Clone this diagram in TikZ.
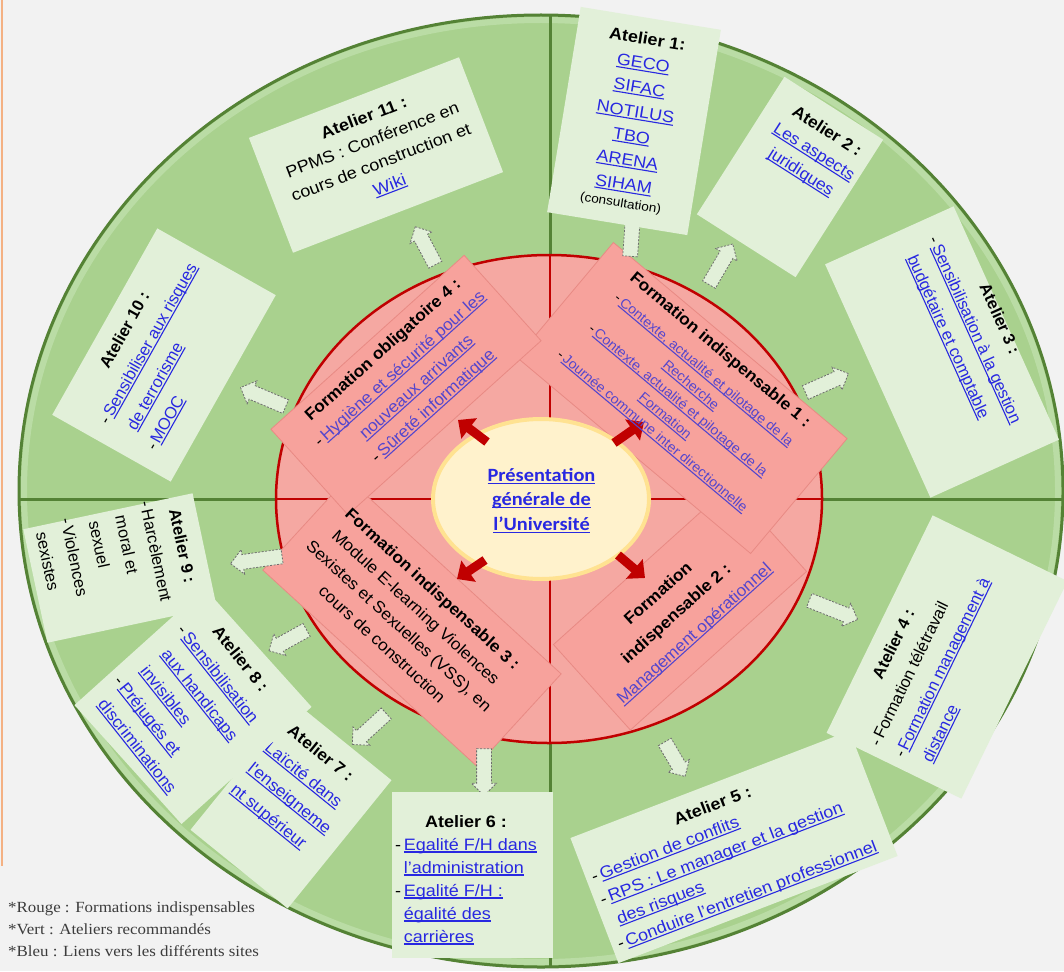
\documentclass[tikz,border=0pt]{standalone}
\usepackage{fontspec}
\setmainfont[FakeStretch=1.09]{Liberation Sans}
\newfontfamily\mfont[FakeStretch=1.05]{Liberation Sans}
\newfontfamily\vfont{Liberation Sans}
\newfontfamily\calfont[FakeStretch=1.09]{Carlito}
\newfontfamily\serfont[FakeStretch=1.09]{Liberation Serif}
\usetikzlibrary{shapes.geometric,shapes.arrows,arrows.meta}
\definecolor{bgc}{RGB}{242,242,242}
\definecolor{gfill}{RGB}{169,209,142}
\definecolor{gedge}{RGB}{84,130,53}
\definecolor{gband}{RGB}{186,220,165}
\definecolor{boxfill}{RGB}{226,240,217}
\definecolor{rfill}{RGB}{245,168,162}
\definecolor{redge}{RGB}{192,0,0}
\definecolor{pfill}{RGB}{247,162,156}
\definecolor{pedge}{RGB}{232,138,132}
\definecolor{cfill}{RGB}{255,242,204}
\definecolor{cedge}{RGB}{255,226,145}
\definecolor{lkblue}{RGB}{40,40,225}
\definecolor{lkpurp}{RGB}{85,70,205}
\definecolor{legc}{RGB}{60,60,60}
\definecolor{orl}{RGB}{244,177,131}
\definecolor{arrd}{RGB}{110,110,110}
\colorlet{lkc}{lkblue}
\newcommand\lk[1]{\leavevmode\setbox0=\hbox{#1}\rlap{\color{lkc}\rule[-2.4pt]{\wd0}{1.1pt}}{\color{lkc}\box0}}
\newcommand\ttl[1]{\multicolumn{1}{@{}c@{}}{\textbf{#1}}}
\newcommand\hb{\hphantom{-\,}}
\begin{document}
\begin{tikzpicture}[x=1pt,y=-1pt,
  abox/.style={fill=boxfill, inner sep=0pt, outer sep=0pt},
  atxt/.style={inner sep=0pt, font=\fontsize{16.5}{24}\selectfont},
  atxm/.style={inner sep=0pt, font=\mfont\fontsize{16.5}{24}\selectfont},
  atxn/.style={inner sep=0pt, font=\mfont\fontsize{16.5}{27}\selectfont},
  atxs/.style={inner sep=0pt, font=\vfont\fontsize{16.5}{27}\selectfont},
  prect/.style={fill=pfill, draw=pedge, line width=0.8pt, inner sep=0pt},
  ptxt/.style={inner sep=0pt, font=\mfont\fontsize{16.5}{25}\selectfont, execute at begin node={\colorlet{lkc}{lkpurp}}},
  barrow/.style={single arrow, draw=arrd, dash pattern=on 2pt off 1.5pt, line width=0.8pt, fill=boxfill, text height=7pt, text depth=7pt, text width=0pt, single arrow head extend=5pt, inner sep=0pt},
  redarr/.style={draw=redge, line width=9pt, -{Triangle[length=14pt,width=25pt]}}
]
\fill[bgc] (0,0) rectangle (1064,971);
\useasboundingbox (0,0) rectangle (1064,971);
\draw[orl, line width=2pt] (1.5,0) -- (1.5,866);
% green disc
\fill[gfill] (541,491) ellipse [x radius=523, y radius=477];
\draw[gband, line width=6pt] (541,491) ellipse [x radius=517, y radius=471];
\draw[gedge, line width=3pt] (541,491) ellipse [x radius=522, y radius=476];
\draw[gedge, line width=3pt] (20,499) -- (1062,499);
\draw[gedge, line width=3pt] (550,16) -- (550,966);
% red disc
\fill[rfill] (549,499) ellipse [x radius=273, y radius=244];
\draw[redge, line width=2pt] (276,499) -- (822,499);
\draw[redge, line width=2pt] (550,255) -- (550,743);
\draw[redge, line width=2.5pt] (549,499) ellipse [x radius=273, y radius=244];
% pink rectangles
\node[prect, minimum width=237pt, minimum height=115pt, rotate=42] (p2) at (680,608) {};
\node[prect, minimum width=290pt, minimum height=125pt, rotate=-42.5] (p3) at (412,622) {};
\node[prect, minimum width=305pt, minimum height=150pt, rotate=-40] (p1) at (682,398) {};
\node[prect, minimum width=260pt, minimum height=115pt, rotate=42] (p4) at (406,385) {};
% centre
\node[ellipse, fill=cfill, draw=cedge, line width=4pt, minimum width=216pt, minimum height=160pt, inner sep=0pt] (cen) at (541,499) {};
\node[inner sep=0pt, font=\calfont\bfseries\fontsize{18.7}{24.5}\selectfont] (cent) at (541.5,501)
  {\begin{tabular}{@{}c@{}}\lk{Présentation}\\ \lk{générale de}\\ \lk{l’Université}\end{tabular}};
% red arrows
\coordinate (r1s) at (487,442); \coordinate (r1e) at (458,420);
\coordinate (r2s) at (614,443); \coordinate (r2e) at (644,422);
\coordinate (r3s) at (485,560); \coordinate (r3e) at (457,579);
\coordinate (r4s) at (618,555); \coordinate (r4e) at (645,578);
\draw[redarr] (r1s) -- (r1e);
\draw[redarr] (r2s) -- (r2e);
\draw[redarr] (r3s) -- (r3e);
\draw[redarr] (r4s) -- (r4e);
% pink texts
\node[ptxt, rotate=42] (p4t) at (408,378) {\begin{tabular}{@{}c@{}}\textbf{Formation obligatoire 4 :}\\ -\,\lk{Hygiène et sécurité pour les}\\ \lk{nouveaux arrivants}\\ -\,\lk{Sûreté informatique}\end{tabular}};
\node[ptxt, rotate=-40, font=\mfont\fontsize{13.5}{20}\selectfont] (p1t) at (686,391) {\begin{tabular}{@{}c@{}}{\fontsize{16.5}{20}\selectfont\bfseries Formation indispensable 1 :}\\[5pt] -\,\lk{Contexte, actualité et pilotage de la}\\ \lk{Recherche}\\ -\,\lk{Contexte, actualité et pilotage de la}\\ \lk{Formation}\\ -\,\lk{Journée commune inter directionnelle}\end{tabular}};
\node[ptxt, rotate=-42.5] (p3t) at (407,617) {\begin{tabular}{@{}c@{}}\textbf{Formation indispensable 3 :}\\ Module E-learning Violences\\ Sexistes et Sexuelles (VSS), en\\ cours de construction\end{tabular}};
\node[ptxt, rotate=42, font=\mfont\fontsize{16.5}{27}\selectfont] (p2t) at (676,613.5) {\begin{tabular}{@{}c@{}}\textbf{Formation}\\ \textbf{indispensable 2 :}\\ \lk{Management opérationnel}\end{tabular}};
% block arrows
\node[barrow, minimum height=43pt, rotate=117.8] (ba11) at (427,249) {};
\node[barrow, minimum height=49pt, rotate=157] (ba10) at (266.5,398.5) {};
\node[barrow, minimum height=47pt, rotate=86] (ba1) at (631.5,236.5) {};
\node[barrow, minimum height=47pt, rotate=59.7] (ba2) at (719,267.5) {};
\node[barrow, minimum height=47pt, rotate=23.8] (ba3) at (823.5,384.5) {};
\node[barrow, minimum height=52pt, rotate=-21.6] (ba4) at (830,608.5) {};
\node[barrow, minimum height=40pt, rotate=-59.5] (ba5) at (673,756) {};
\node[barrow, minimum height=47pt, rotate=-90] (ba6) at (484,768.5) {};
\node[barrow, minimum height=46pt, rotate=-137.6] (ba7) at (372,726.5) {};
\node[barrow, minimum height=43pt, rotate=-151] (ba8) at (291,638.5) {};
\node[barrow, minimum height=52pt, rotate=-172] (ba9) at (260,559.5) {};
% ateliers
\node[abox, minimum width=225pt, minimum height=123pt, rotate=21] (b11) at (376,155) {};
\node[atxt, rotate=21] (t11) at (377,152) {\begin{tabular}{@{}c@{}}\textbf{Atelier 11 :}\\ PPMS : Conférence en\\ cours de construction et\\ \lk{Wiki}\end{tabular}};
\node[abox, minimum width=142pt, minimum height=208pt, rotate=-9.3] (b1) at (634,121) {};
\node[atxt, rotate=-9.3, font=\fontsize{16.5}{24.5}\selectfont] (t1) at (634,121) {\begin{tabular}{@{}c@{}}\textbf{Atelier 1:}\\ \lk{GECO}\\ \lk{SIFAC}\\ \lk{NOTILUS}\\ \lk{TBO}\\ \lk{ARENA}\\ \lk{SIHAM}\\[-7pt] {\fontsize{12.5}{14}\selectfont (consultation)}\end{tabular}};
\node[abox, minimum width=117pt, minimum height=163pt, rotate=-32.5] (b2) at (790,177) {};
\node[atxm, rotate=-32.5] (t2) at (814,152) {\begin{tabular}{@{}c@{}}\textbf{Atelier 2 :}\\ \lk{Les aspects}\\ \lk{juridiques}\end{tabular}};
\node[abox, minimum width=256pt, minimum height=141pt, rotate=-65.7] (b3) at (942,352) {};
\node[atxs, rotate=-65.7] (t3) at (975,330) {\begin{tabular}{@{}l@{}}\ttl{Atelier 3 :}\\ -\,\lk{Sensibilisation à la gestion}\\ \hb\lk{budgétaire et comptable}\end{tabular}};
\node[abox, minimum width=242pt, minimum height=150pt, rotate=64] (b4) at (947,657) {};
\node[atxs, rotate=64] (t4) at (930,662) {\begin{tabular}{@{}l@{}}\ttl{Atelier 4 :}\\ -\,Formation télétravail\\ -\,\lk{Formation management à}\\ \hb\lk{distance}\end{tabular}};
\node[abox, minimum width=299pt, minimum height=134pt, rotate=21] (b5) at (734,847) {};
\node[atxt, rotate=21] (t5) at (730,851) {\begin{tabular}{@{}l@{}}\ttl{Atelier 5 :}\\ -\,\lk{Gestion de conflits}\\ -\,\lk{RPS : Le manager et la gestion}\\ \hb\lk{des risques}\\ -\,\lk{Conduire l'entretien professionnel}\end{tabular}};
\node[abox, minimum width=161pt, minimum height=166pt] (b6) at (472.5,875) {};
\node[atxt, font=\fontsize{16.5}{23}\selectfont] (t6) at (466,880) {\begin{tabular}{@{}l@{}}\ttl{Atelier 6 :}\\ -\,\lk{Egalité F/H dans}\\ \hb\lk{l'administration}\\ -\,\lk{Egalité F/H :}\\ \hb\lk{égalité des}\\ \hb\lk{carrières}\end{tabular}};
\node[abox, minimum width=125pt, minimum height=165pt, rotate=-39] (b7) at (291,805) {};
\node[atxn, rotate=-39] (t7) at (295,785) {\begin{tabular}{@{}l@{}}\ttl{Atelier 7 :}\\ -\,\lk{Laïcité dans}\\ \hb\lk{l'enseigneme}\\ \hb\lk{nt supérieur}\end{tabular}};
\node[abox, minimum width=160pt, minimum height=175pt, rotate=-48] (b8) at (193,706) {};
\node[atxn, rotate=-51.5] (t8) at (187.5,701) {\begin{tabular}{@{}l@{}}\ttl{Atelier 8 :}\\ -\,\lk{Sensibilisation}\\ \hb\lk{aux handicaps}\\ \hb\lk{invisibles}\\ -\,\lk{Préjugés et}\\ \hb\lk{discriminations}\end{tabular}};
\node[abox, minimum width=116pt, minimum height=173pt, rotate=-78] (b9) at (120,568) {};
\node[atxs, rotate=-78] (t9) at (116,560) {\begin{tabular}{@{}l@{}}\ttl{Atelier 9 :}\\ -\,Harcèlement\\ \hb moral et\\ \hb sexuel\\ -\,Violences\\ \hb sexistes\end{tabular}};
\node[abox, minimum width=214pt, minimum height=136pt, rotate=60.6] (b10) at (164,355) {};
\node[atxs, rotate=60.6] (t10) at (160,350) {\begin{tabular}{@{}l@{}}\ttl{Atelier 10 :}\\ -\,\lk{Sensibiliser aux risques}\\ \hb\lk{de terrorisme}\\ -\,\lk{MOOC}\end{tabular}};
% legend
\node[anchor=north west, inner sep=0pt, text=legc, font=\serfont\fontsize{15.5}{22}\selectfont] (leg) at (8,897) {\begin{tabular}{@{}l@{}}*Rouge : Formations indispensables\\ {}*Vert : Ateliers recommandés\\ {}*Bleu : Liens vers les différents sites\end{tabular}};
\end{tikzpicture}
\end{document}
